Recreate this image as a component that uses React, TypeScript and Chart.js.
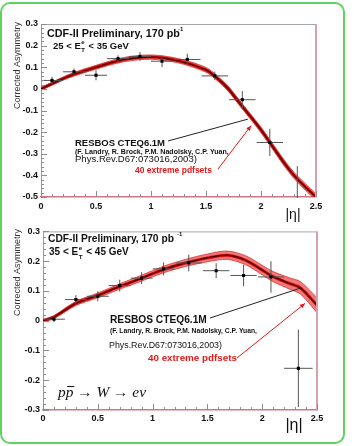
import React, { useEffect, useRef } from "react";
import { Chart, registerables } from "chart.js";

Chart.register(...registerables);

// ---------------- data ----------------
const etaBins = [0.1, 0.3, 0.5, 0.7, 0.9, 1.1, 1.33, 1.58, 1.83, 2.08, 2.33];
const etaHalfWidth = [0.1, 0.1, 0.1, 0.1, 0.1, 0.1, 0.12, 0.12, 0.12, 0.12, 0.13];

const lowEtAsym = [0.039, 0.079, 0.063, 0.14, 0.15, 0.128, 0.136, 0.06, -0.05, -0.248, -0.507];
const lowEtErr = [0.017, 0.015, 0.023, 0.015, 0.02, 0.027, 0.027, 0.02, 0.04, 0.062, 0.15];

const highEtAsym = [0.005, 0.071, 0.082, 0.118, 0.143, 0.174, 0.194, 0.168, 0.152, 0.147, -0.16];
const highEtErr = [0.01, 0.015, 0.017, 0.02, 0.02, 0.022, 0.028, 0.025, 0.036, 0.053, 0.13];

const lowCurveEta = [0, 0.25, 0.5, 0.75, 1.0, 1.25, 1.5, 1.6, 1.7, 1.8, 1.9, 2.0, 2.1, 2.2, 2.3, 2.4, 2.5];
const lowCurve = [0, 0.058, 0.1, 0.135, 0.147, 0.13, 0.088, 0.05, 0.002, -0.062, -0.125, -0.19, -0.262, -0.335, -0.4, -0.452, -0.5];
const lowSpread = [0.006, 0.008, 0.009, 0.01, 0.01, 0.01, 0.011, 0.011, 0.012, 0.012, 0.012, 0.013, 0.013, 0.014, 0.014, 0.015, 0.015];

const highCurveEta = [0, 0.1, 0.3, 0.5, 0.7, 0.9, 1.1, 1.3, 1.5, 1.68, 1.85, 2.0, 2.1, 2.25, 2.35, 2.5];
const highCurve = [0, 0.012, 0.058, 0.085, 0.115, 0.143, 0.172, 0.194, 0.211, 0.22, 0.203, 0.17, 0.148, 0.125, 0.11, 0.052];
const highSpread = [0.003, 0.005, 0.007, 0.008, 0.009, 0.01, 0.011, 0.012, 0.013, 0.014, 0.015, 0.016, 0.017, 0.019, 0.021, 0.025];

const etaTickLabels = ["0", "0.5", "1", "1.5", "2", "2.5"];
const lowTickLabels = ["0.3", "0.2", "0.1", "0", "-0.1", "-0.2", "-0.3", "-0.4", "-0.5"];
const highTickLabels = ["0.3", "0.2", "0.1", "0", "-0.1", "-0.2", "-0.3"];

const yTitle = "Corrected Asymmetry";
const panelTitle = "CDF-II Preliminary, 170 pb";
const lumiExp = "-1";
const modelName = "RESBOS CTEQ6.1M";
const authors = "(F. Landry, R. Brock, P.M. Nadolsky, C.P. Yuan,";
const reference = "Phys.Rev.D67:073016,2003)";
const pdfNote = "40 extreme pdfsets";
const etaTitle = "|\u03b7|";

// ---------------- drawing helpers ----------------
const SANS = '"Liberation Sans", Arial, sans-serif';
const SERIF = '"Liberation Serif", "Times New Roman", serif';

function fitText(ctx: CanvasRenderingContext2D, text: string, x: number, y: number, w: number, weight: string, color: string, family = SANS, style = "") {
  ctx.font = `${style} ${weight} 10px ${family}`;
  const m = ctx.measureText(text).width;
  const size = (10 * w) / m;
  ctx.font = `${style} ${weight} ${size}px ${family}`;
  ctx.fillStyle = color;
  ctx.textAlign = "left";
  ctx.textBaseline = "middle";
  ctx.fillText(text, x, y);
  return size;
}

function arrowLine(ctx: CanvasRenderingContext2D, x1: number, y1: number, x2: number, y2: number, color: string, head: boolean) {
  ctx.strokeStyle = color;
  ctx.lineWidth = 1;
  ctx.beginPath();
  ctx.moveTo(x1, y1);
  ctx.lineTo(x2, y2);
  ctx.stroke();
  if (head) {
    const a = Math.atan2(y2 - y1, x2 - x1);
    const L = 5, W = 2.2;
    ctx.fillStyle = color;
    ctx.beginPath();
    ctx.moveTo(x2, y2);
    ctx.lineTo(x2 - L * Math.cos(a) + W * Math.sin(a), y2 - L * Math.sin(a) - W * Math.cos(a));
    ctx.lineTo(x2 - L * Math.cos(a) - W * Math.sin(a), y2 - L * Math.sin(a) + W * Math.cos(a));
    ctx.closePath();
    ctx.fill();
  }
}

interface TextSpec { text: string; x: number; y: number; w: number; weight: string; color: string; }
interface PanelCfg {
  yMin: number; yMax: number; yLabels: string[];
  asym: number[]; err: number[];
  curveEta: number[]; curve: number[]; spread: number[];
  area: { left: number; top: number; right: number; bottom: number };
  height: number;
  tickPad: number;
  texts: TextSpec[];
  sup: { x: number; y: number };
  et: { lo: string; hi: string; x: number; y: number; size: number };
  titleX: number; titleTop: number;
  eta: { x: number; y: number; size: number };
  black: { from: [number, number]; to: [number, number] };
  red: { from: [number, number]; to: [number, number] };
  reaction?: { x: number; y: number; w: number };
}

function buildPanel(canvas: HTMLCanvasElement, cfg: PanelCfg) {
  const center = cfg.curveEta.map((x, i) => ({ x, y: cfg.curve[i] }));
  const upper = cfg.curveEta.map((x, i) => ({ x, y: cfg.curve[i] + cfg.spread[i] }));
  const lower = cfg.curveEta.map((x, i) => ({ x, y: cfg.curve[i] - cfg.spread[i] }));
  const pts = etaBins.map((x, i) => ({ x, y: cfg.asym[i] }));

  const overlay = {
    id: "rootStyle",
    beforeDatasetDraw(chart: any, args: any) {
      if (args.index !== 0) return;
      const ctx: CanvasRenderingContext2D = chart.ctx;
      const xs = chart.scales.x, ys = chart.scales.y, a = chart.chartArea;
      ctx.save();
      ctx.beginPath();
      ctx.rect(a.left, a.top, a.right - a.left, a.bottom - a.top + 1);
      ctx.clip();
      ctx.strokeStyle = "#555";
      ctx.lineWidth = 1;
      etaBins.forEach((e, i) => {
        const px = xs.getPixelForValue(e);
        const py = ys.getPixelForValue(cfg.asym[i]);
        ctx.beginPath();
        ctx.moveTo(xs.getPixelForValue(e - etaHalfWidth[i]), py);
        ctx.lineTo(xs.getPixelForValue(e + etaHalfWidth[i]), py);
        ctx.moveTo(px, ys.getPixelForValue(cfg.asym[i] + cfg.err[i]));
        ctx.lineTo(px, ys.getPixelForValue(cfg.asym[i] - cfg.err[i]));
        ctx.stroke();
      });
      ctx.restore();
    },
    afterDraw(chart: any) {
      const ctx: CanvasRenderingContext2D = chart.ctx;
      const xs = chart.scales.x, ys = chart.scales.y, a = chart.chartArea;
      ctx.save();
      // frame top and right
      ctx.lineWidth = 1;
      ctx.strokeStyle = "#a8a8a8";
      ctx.beginPath();
      ctx.moveTo(a.left, a.top + 0.5);
      ctx.lineTo(a.right, a.top + 0.5);
      ctx.stroke();
      ctx.lineWidth = 2;
      ctx.strokeStyle = "rgb(214,160,172)";
      ctx.beginPath();
      ctx.moveTo(a.right, a.top);
      ctx.lineTo(a.right, a.bottom);
      ctx.stroke();
      // inward ticks
      ctx.lineWidth = 1;
      ctx.strokeStyle = "#8c8c8c";
      const k0 = Math.round(cfg.yMin / 0.02), k1 = Math.round(cfg.yMax / 0.02);
      for (let k = k0; k <= k1; k++) {
        const y = Math.round(ys.getPixelForValue(k * 0.02)) + 0.5;
        const len = k % 5 === 0 ? 6 : 3;
        ctx.beginPath();
        ctx.moveTo(a.left, y);
        ctx.lineTo(a.left + len, y);
        ctx.stroke();
      }
      for (let k = 0; k <= 25; k++) {
        const x = Math.round(xs.getPixelForValue(k * 0.1)) + 0.5;
        const len = k % 5 === 0 ? 6 : 3;
        ctx.beginPath();
        ctx.moveTo(x, a.bottom);
        ctx.lineTo(x, a.bottom - len);
        ctx.stroke();
      }
      // y title
      ctx.save();
      ctx.translate(cfg.titleX, cfg.titleTop);
      ctx.rotate(-Math.PI / 2);
      ctx.font = `9px ${SANS}`;
      ctx.fillStyle = "#333";
      ctx.textAlign = "right";
      ctx.textBaseline = "middle";
      ctx.fillText(yTitle, 0, 0);
      ctx.restore();
      // texts
      cfg.texts.forEach((t) => fitText(ctx, t.text, t.x, t.y, t.w, t.weight, t.color));
      ctx.font = `bold 6px ${SANS}`;
      ctx.fillStyle = "#111";
      ctx.textAlign = "left";
      ctx.fillText(lumiExp, cfg.sup.x, cfg.sup.y);
      // E_T^e label
      const s = cfg.et.size;
      ctx.font = `bold ${s}px ${SANS}`;
      ctx.textBaseline = "middle";
      const pre = `${cfg.et.lo} < E`;
      ctx.fillText(pre, cfg.et.x, cfg.et.y);
      const wpre = ctx.measureText(pre).width;
      ctx.font = `bold ${s * 0.62}px ${SANS}`;
      ctx.fillText("e", cfg.et.x + wpre + 0.5, cfg.et.y - s * 0.42);
      ctx.fillText("T", cfg.et.x + wpre + 0.5, cfg.et.y + s * 0.5);
      const wsub = ctx.measureText("T").width;
      ctx.font = `bold ${s}px ${SANS}`;
      ctx.fillText(` < ${cfg.et.hi} GeV`, cfg.et.x + wpre + wsub + 1.5, cfg.et.y);
      // pointers
      arrowLine(ctx, cfg.black.from[0], cfg.black.from[1], xs.getPixelForValue(cfg.black.to[0]), ys.getPixelForValue(cfg.black.to[1]), "#222", false);
      arrowLine(ctx, cfg.red.from[0], cfg.red.from[1], xs.getPixelForValue(cfg.red.to[0]), ys.getPixelForValue(cfg.red.to[1]), "#e01818", true);
      // eta axis title
      ctx.font = `${cfg.eta.size}px ${SANS}`;
      ctx.fillStyle = "#111";
      ctx.textAlign = "center";
      ctx.textBaseline = "middle";
      ctx.fillText(etaTitle, cfg.eta.x, cfg.eta.y);
      // reaction
      if (cfg.reaction) {
        const r = cfg.reaction;
        const full = "pp \u2192 W \u2192 e\u03bd";
        ctx.font = `italic 10px ${SERIF}`;
        const sz = (10 * r.w) / ctx.measureText(full).width;
        ctx.font = `italic ${sz}px ${SERIF}`;
        ctx.textAlign = "left";
        ctx.fillStyle = "#111";
        ctx.fillText(full, r.x, r.y);
        const wp = ctx.measureText("p").width;
        ctx.strokeStyle = "#111";
        ctx.lineWidth = 1;
        ctx.beginPath();
        ctx.moveTo(r.x + wp + 1.5, r.y - sz * 0.42);
        ctx.lineTo(r.x + 2 * wp + 1, r.y - sz * 0.42);
        ctx.stroke();
      }
      ctx.restore();
    },
  };

  const fmt = (labels: string[]) => (v: any) => {
    const l = labels.find((s) => Math.abs(parseFloat(s) - Number(v)) < 1e-6);
    return l === undefined ? "" : l;
  };

  return new Chart(canvas, {
    type: "line",
    data: {
      datasets: [
        { label: "data", data: pts, showLine: false, pointStyle: "rect", pointRadius: 2.2, pointBackgroundColor: "#000", pointBorderWidth: 0, borderColor: "#000" } as any,
        { label: "core", data: center, borderColor: "rgb(80,0,0)", borderWidth: 1.3, pointRadius: 0, tension: 0.3, fill: false },
        { label: "mid", data: center, borderColor: "rgba(210,10,10,0.95)", borderWidth: 3, pointRadius: 0, tension: 0.3, fill: false },
        { label: "upper", data: upper, borderColor: "rgba(225,50,50,0.8)", borderWidth: 1, pointRadius: 0, tension: 0.3, fill: false },
        { label: "lower", data: lower, borderColor: "rgba(225,50,50,0.8)", borderWidth: 1, pointRadius: 0, tension: 0.3, fill: "-1", backgroundColor: "rgba(230,40,40,0.62)" },
      ],
    },
    options: {
      responsive: false,
      animation: false,
      events: [],
      layout: { padding: { left: 0, top: cfg.area.top, right: 354 - cfg.area.right, bottom: 0 } },
      plugins: { legend: { display: false }, tooltip: { enabled: false } },
      scales: {
        x: {
          type: "linear",
          min: 0,
          max: 2.5,
          grid: { display: false, drawTicks: false },
          border: { display: true, color: "rgb(205,120,132)", width: 1.5 },
          ticks: { stepSize: 0.5, padding: cfg.tickPad, autoSkip: false, maxRotation: 0, color: "#111", font: { family: SANS, size: 9, weight: "bold" }, callback: fmt(etaTickLabels) },
          afterFit: (s: any) => { s.height = cfg.height - cfg.area.bottom; },
        },
        y: {
          type: "linear",
          min: cfg.yMin,
          max: cfg.yMax,
          grid: { display: false, drawTicks: false },
          border: { display: true, color: "#9a9a9a", width: 1 },
          ticks: { stepSize: 0.1, padding: 3, autoSkip: false, color: "#111", font: { family: SANS, size: 9, weight: "bold" }, callback: fmt(cfg.yLabels) },
          afterFit: (s: any) => { s.width = cfg.area.left; },
        },
      },
    } as any,
    plugins: [overlay as any],
  });
}

const lowPanel: PanelCfg = {
  yMin: -0.5, yMax: 0.3, yLabels: lowTickLabels,
  asym: lowEtAsym, err: lowEtErr,
  curveEta: lowCurveEta, curve: lowCurve, spread: lowSpread,
  area: { left: 41, top: 24, right: 316, bottom: 197 },
  height: 223,
  tickPad: 4,
  texts: [
    { text: panelTitle, x: 47, y: 34, w: 133, weight: "bold", color: "#111" },
    { text: modelName, x: 75, y: 143, w: 90, weight: "bold", color: "#111" },
    { text: authors, x: 75, y: 152.5, w: 154, weight: "bold", color: "#111" },
    { text: reference, x: 75, y: 159, w: 122, weight: "normal", color: "#111" },
    { text: pdfNote, x: 135, y: 171, w: 77, weight: "bold", color: "#e01818" },
  ],
  sup: { x: 178, y: 29 },
  et: { lo: "25", hi: "35", x: 53, y: 46, size: 9.5 },
  titleX: 18, titleTop: 22,
  eta: { x: 293, y: 215, size: 14 },
  black: { from: [168, 141], to: [1.88, -0.14] },
  red: { from: [218, 169], to: [1.91, -0.17] },
};

const highPanel: PanelCfg = {
  yMin: -0.3, yMax: 0.3, yLabels: highTickLabels,
  asym: highEtAsym, err: highEtErr,
  curveEta: highCurveEta, curve: highCurve, spread: highSpread,
  area: { left: 43, top: 8, right: 317, bottom: 187 },
  height: 223,
  tickPad: 3,
  texts: [
    { text: panelTitle, x: 48, y: 16, w: 126, weight: "bold", color: "#111" },
    { text: modelName, x: 110, y: 97, w: 97, weight: "bold", color: "#111" },
    { text: authors, x: 110, y: 108.5, w: 147, weight: "bold", color: "#111" },
    { text: reference, x: 109, y: 122.5, w: 113, weight: "normal", color: "#111" },
    { text: pdfNote, x: 148, y: 135, w: 89, weight: "bold", color: "#e01818" },
  ],
  sup: { x: 177, y: 11 },
  et: { lo: "35", hi: "45", x: 49, y: 29, size: 10 },
  titleX: 18, titleTop: 6,
  eta: { x: 294, y: 203, size: 16 },
  black: { from: [210, 95], to: [2.345, 0.109] },
  red: { from: [237, 135], to: [2.39, 0.058] },
  reaction: { x: 58, y: 170, w: 88 },
};

export default function App() {
  const topRef = useRef<HTMLCanvasElement>(null);
  const botRef = useRef<HTMLCanvasElement>(null);
  useEffect(() => {
    const c1 = buildPanel(topRef.current as HTMLCanvasElement, lowPanel);
    const c2 = buildPanel(botRef.current as HTMLCanvasElement, highPanel);
    return () => {
      c1.destroy();
      c2.destroy();
    };
  }, []);
  return (
    <div style={{ position: "absolute", left: 0, top: 0, width: 354, height: 446, background: "#fff", overflow: "hidden" }}>
      <canvas ref={topRef} width={354} height={223} style={{ position: "absolute", left: 0, top: 0, width: 354, height: 223 }} />
      <canvas ref={botRef} width={354} height={223} style={{ position: "absolute", left: 0, top: 223, width: 354, height: 223 }} />
      <div style={{ position: "absolute", left: 0, top: 2, width: 341, height: 438, border: "2px solid #5fd35f", borderRadius: 10, pointerEvents: "none" }} />
    </div>
  );
}
